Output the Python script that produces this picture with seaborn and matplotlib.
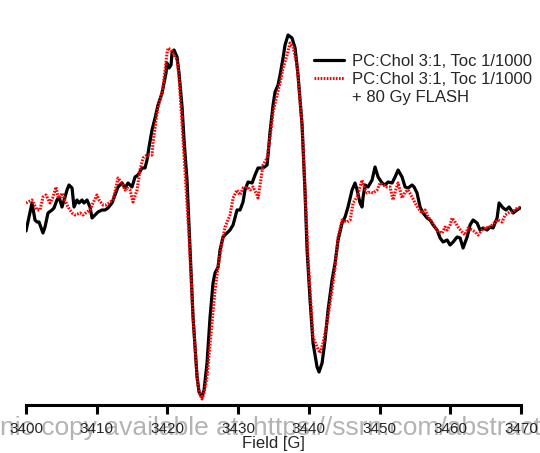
import numpy as np
import pandas as pd
import matplotlib
matplotlib.use("Agg")
import matplotlib.pyplot as plt
from matplotlib.lines import Line2D
import seaborn as sns

# EPR spectra: magnetic field [G] and first-derivative signal (a.u.)
field_ctrl = [
    3400.00, 3400.85, 3401.27, 3401.56, 3401.84, 3402.40, 3402.69, 3403.11, 3403.68, 3403.96,
    3404.38, 3404.67, 3405.09, 3405.52, 3405.80, 3406.08, 3406.51, 3406.79, 3407.21, 3407.50,
    3407.92, 3408.20, 3408.63, 3409.05, 3409.34, 3409.76, 3410.18, 3410.75, 3411.17, 3411.60,
    3412.16, 3412.59, 3413.01, 3413.58, 3414.00, 3414.43, 3414.99, 3415.42, 3415.84, 3416.41,
    3416.83, 3417.11, 3417.40, 3417.82, 3418.25, 3418.67, 3419.24, 3419.52, 3419.80, 3419.94,
    3420.23, 3420.51, 3420.65, 3420.93, 3421.36, 3421.64, 3422.07, 3422.35, 3422.77, 3423.20,
    3423.62, 3424.19, 3424.47, 3424.89, 3425.18, 3425.60, 3426.03, 3426.45, 3426.73, 3427.16,
    3427.44, 3427.86, 3428.43, 3428.85, 3429.28, 3429.84, 3430.27, 3430.69, 3430.97, 3431.40,
    3431.97, 3432.39, 3432.81, 3433.52, 3434.09, 3434.23, 3434.51, 3434.94, 3435.22, 3435.64,
    3435.93, 3436.35, 3436.63, 3437.06, 3437.62, 3438.05, 3438.47, 3439.04, 3439.46, 3439.75,
    3440.17, 3440.59, 3441.16, 3441.44, 3441.87, 3442.29, 3442.72, 3443.28, 3443.71, 3444.13,
    3444.70, 3445.12, 3445.54, 3446.11, 3446.53, 3446.82, 3447.24, 3447.52, 3447.67, 3447.95,
    3448.37, 3448.94, 3449.36, 3449.79, 3450.35, 3450.78, 3451.20, 3451.77, 3452.19, 3452.62,
    3453.18, 3453.61, 3454.03, 3454.60, 3454.88, 3455.30, 3455.73, 3456.15, 3456.72, 3457.14,
    3457.57, 3458.13, 3458.56, 3458.98, 3459.55, 3459.97, 3460.40, 3460.96, 3461.39, 3461.81,
    3462.38, 3462.80, 3463.22, 3463.79, 3464.21, 3464.64, 3465.21, 3465.63, 3466.05, 3466.62,
    3466.90, 3467.47, 3467.89, 3468.32, 3468.88, 3469.45, 3469.87,
]
signal_ctrl = [
    -26, 2, -15, -17, -17, -28, -22, -8, -5, -3,
    5, 8, -2, 8, 15, 20, 17, -2, 5, 2,
    5, 2, 5, -2, -13, -10, -7, -5, -5, -3,
    2, 10, 18, 22, 17, 22, 18, 28, 30, 37,
    37, 45, 58, 75, 87, 100, 112, 122, 132, 142,
    137, 140, 152, 155, 148, 132, 98, 65, 25, -45,
    -112, -172, -187, -192, -185, -158, -112, -78, -68, -62,
    -45, -32, -28, -25, -20, -5, -5, 3, 15, 23,
    22, 30, 37, 37, 40, 50, 73, 100, 113, 120,
    130, 147, 160, 170, 167, 157, 130, 80, 13, -45,
    -95, -138, -162, -167, -158, -135, -105, -75, -58, -35,
    -18, -12, -2, 15, 22, 15, 2, -2, 8, 20,
    18, 25, 38, 28, 22, 20, 23, 22, 28, 35,
    28, 18, 17, 20, 18, 12, -2, -8, -13, -15,
    -20, -25, -33, -37, -35, -40, -37, -32, -33, -43,
    -32, -20, -15, -18, -25, -23, -25, -22, -23, -13,
    2, -3, -5, -2, -8, -5, -3,
]

field_flash = [
    3400.00, 3400.85, 3401.56, 3401.98, 3402.40, 3402.83, 3403.39, 3403.82, 3404.24, 3404.53,
    3404.81, 3405.09, 3405.37, 3405.94, 3406.51, 3406.93, 3407.64, 3408.06, 3408.63, 3409.05,
    3409.48, 3410.04, 3410.33, 3410.89, 3411.32, 3411.74, 3412.31, 3412.73, 3413.01, 3413.58,
    3414.00, 3414.29, 3414.71, 3415.13, 3415.70, 3416.12, 3416.55, 3417.11, 3417.82, 3417.96,
    3418.39, 3418.67, 3419.09, 3419.38, 3419.66, 3419.94, 3420.08, 3420.51, 3420.79, 3421.36,
    3421.64, 3422.21, 3423.06, 3423.62, 3424.19, 3424.47, 3424.89, 3425.18, 3425.60, 3426.31,
    3426.73, 3427.16, 3427.72, 3428.15, 3428.85, 3429.28, 3429.84, 3430.27, 3430.69, 3431.26,
    3431.68, 3432.11, 3432.67, 3432.81, 3433.10, 3433.52, 3434.09, 3434.51, 3434.94, 3435.50,
    3435.93, 3436.35, 3436.92, 3437.34, 3437.77, 3438.33, 3439.04, 3439.89, 3440.59, 3441.16,
    3441.58, 3442.01, 3442.57, 3443.28, 3443.71, 3444.13, 3444.70, 3445.40, 3445.83, 3446.25,
    3446.82, 3447.24, 3447.52, 3447.81, 3448.23, 3448.66, 3449.08, 3449.65, 3450.07, 3450.50,
    3451.06, 3451.49, 3451.91, 3452.19, 3452.62, 3453.18, 3453.61, 3454.03, 3454.60, 3455.02,
    3455.45, 3456.01, 3456.44, 3456.86, 3457.43, 3457.85, 3458.27, 3458.84, 3459.26, 3459.55,
    3459.97, 3460.25, 3460.68, 3461.10, 3461.67, 3462.09, 3462.52, 3463.08, 3463.51, 3463.93,
    3464.50, 3464.92, 3465.35, 3465.91, 3466.34, 3466.76, 3467.33, 3467.75, 3468.18, 3468.74,
    3469.17, 3469.59, 3469.87,
]
signal_flash = [
    2, 5, -5, -5, 8, 10, 2, 8, 18, 8,
    7, 12, 7, -2, -8, -10, -8, -10, -7, -5,
    2, 10, 5, 0, 0, 2, 5, 18, 27, 22,
    15, 17, 15, 3, 15, 35, 47, 50, 50, 62,
    85, 98, 108, 118, 135, 152, 157, 155, 152, 145,
    128, 65, -32, -112, -172, -187, -194, -188, -172, -118,
    -85, -62, -38, -22, -10, 7, 15, 10, 17, 18,
    15, 18, 10, 7, 20, 40, 47, 67, 93, 110,
    122, 137, 150, 162, 158, 140, 80, -53, -132, -142,
    -148, -138, -118, -85, -62, -32, -15, -17, -15, 2,
    8, 18, 25, 18, 12, 13, 12, 15, 22, 20,
    18, 18, 5, 13, 22, 7, 13, 15, 8, 2,
    -3, -8, -5, -12, -17, -22, -27, -28, -22, -25,
    -20, -13, -17, -22, -27, -30, -23, -25, -27, -30,
    -25, -22, -23, -20, -17, -15, -17, -10, -8, -7,
    -5, -2, -3,
]

label_ctrl = "PC:Chol 3:1, Toc 1/1000"
label_flash = "PC:Chol 3:1, Toc 1/1000"
label_flash_2 = "+ 80 Gy FLASH"
x_ticks = [3400, 3410, 3420, 3430, 3440, 3450, 3460, 3470]

df_ctrl = pd.DataFrame({"field": field_ctrl, "signal": signal_ctrl})
df_flash = pd.DataFrame({"field": field_flash, "signal": signal_flash})

sns.set_style("white")
plt.rcParams["font.family"] = ["Liberation Sans", "DejaVu Sans"]

fig = plt.figure(figsize=(5.4, 4.53), dpi=100)
ax = fig.add_axes([26 / 540, 48 / 453, 495 / 540, 400 / 453])
ax.patch.set_visible(False)

sns.lineplot(data=df_ctrl, x="field", y="signal", ax=ax, sort=False,
             color="black", linewidth=2.3, solid_joinstyle="round",
             solid_capstyle="round", zorder=2)
sns.lineplot(data=df_flash, x="field", y="signal", ax=ax, sort=False,
             color="#ff0000", linewidth=2.2, zorder=3)
ax.lines[-1].set_dashes((0.55, 0.45))

ax.set_xlim(3400, 3470)
ax.set_ylim(-200, 200)
ax.set_xticks(x_ticks)
ax.set_xticklabels([str(t) for t in x_ticks], fontsize=11)
ax.set_yticks([])
ax.set_xlabel("Field [G]", fontsize=12, labelpad=0)
ax.set_ylabel("")

for side in ("top", "right", "left"):
    ax.spines[side].set_visible(False)
ax.spines["bottom"].set_linewidth(2.2)
ax.spines["bottom"].set_color("black")
ax.tick_params(axis="x", direction="out", length=6.5, width=2.2,
               color="black", pad=6, bottom=True)

handles = [
    Line2D([], [], color="black", linewidth=2.3),
    Line2D([], [], color="#ff0000", linewidth=2.2, dashes=(0.55, 0.45)),
    Line2D([], [], color="none"),
]
ax.legend(handles, [label_ctrl, label_flash, label_flash_2],
          loc="upper right", bbox_to_anchor=(1.035, 0.895), frameon=False,
          prop={"size": 12}, handlelength=1.8, handletextpad=0.45,
          labelspacing=0.2, borderaxespad=0)

# repository banner running across the bottom edge, behind the axis labels
fig.text(-0.004, 453 - 435, "nic copy available at: https://ssrn.com/abstract",
         transform=None, fontsize=19, color="#b3b3b3", zorder=-1,
         ha="left", va="baseline")

fig.savefig("out.png", dpi=100)
